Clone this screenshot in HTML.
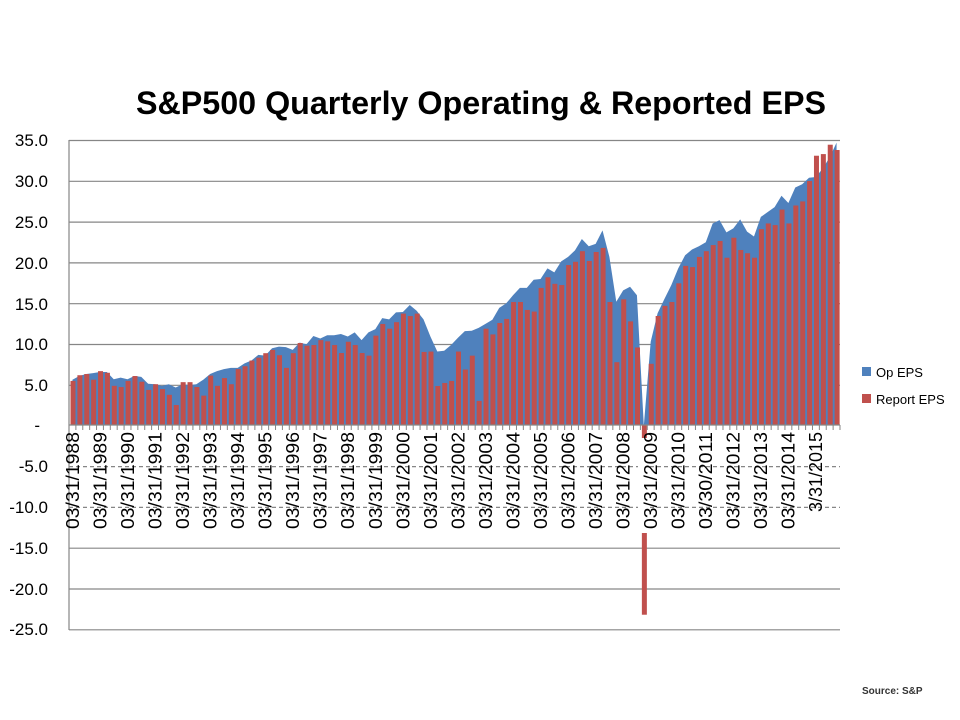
<!DOCTYPE html>
<html><head><meta charset="utf-8"><style>
html,body{margin:0;padding:0;background:#fff;}
svg{display:block;}
text{font-family:"Liberation Sans",sans-serif;}
</style></head><body>
<svg id="s" width="960" height="720" xmlns="http://www.w3.org/2000/svg">
<rect width="960" height="720" fill="#fff"/>
<text x="136" y="114" font-size="32" font-weight="bold" textLength="690" lengthAdjust="spacingAndGlyphs">S&amp;P500 Quarterly Operating &amp; Reported EPS</text>
<g id="grid" stroke="#868686" stroke-width="1.2">
<line x1="69" x2="840" y1="140.5" y2="140.5"/>
<line x1="69" x2="840" y1="181.3" y2="181.3"/>
<line x1="69" x2="840" y1="222.1" y2="222.1"/>
<line x1="69" x2="840" y1="262.9" y2="262.9"/>
<line x1="69" x2="840" y1="303.7" y2="303.7"/>
<line x1="69" x2="840" y1="344.5" y2="344.5"/>
<line x1="69" x2="840" y1="385.3" y2="385.3"/>
<line x1="69" x2="840" y1="466.6" y2="466.6" stroke-dasharray="4 3"/>
<line x1="69" x2="840" y1="507.4" y2="507.4" stroke-dasharray="4 3"/>
<line x1="69" x2="840" y1="548.2" y2="548.2"/>
<line x1="69" x2="840" y1="589" y2="589"/>
<line x1="69" x2="840" y1="629.8" y2="629.8"/>
</g>
<g id="plot"></g>
<g font-size="17" text-anchor="end" fill="#000">
<text x="48" y="146">35.0</text>
<text x="48" y="187">30.0</text>
<text x="48" y="228">25.0</text>
<text x="48" y="269">20.0</text>
<text x="48" y="310">15.0</text>
<text x="48" y="350">10.0</text>
<text x="48" y="391">5.0</text>
<text x="40" y="431">-</text>
<text x="48" y="472">-5.0</text>
<text x="48" y="513">-10.0</text>
<text x="48" y="554">-15.0</text>
<text x="48" y="595">-20.0</text>
<text x="48" y="635">-25.0</text>
</g>
<g id="xl" font-size="18" text-anchor="end" fill="#000">
<text transform="translate(79,432) rotate(-90)" textLength="97" lengthAdjust="spacingAndGlyphs">03/31/1988</text>
<text transform="translate(106.6,432) rotate(-90)" textLength="97" lengthAdjust="spacingAndGlyphs">03/31/1989</text>
<text transform="translate(134.1,432) rotate(-90)" textLength="97" lengthAdjust="spacingAndGlyphs">03/31/1990</text>
<text transform="translate(161.6,432) rotate(-90)" textLength="97" lengthAdjust="spacingAndGlyphs">03/31/1991</text>
<text transform="translate(189.1,432) rotate(-90)" textLength="97" lengthAdjust="spacingAndGlyphs">03/31/1992</text>
<text transform="translate(216.6,432) rotate(-90)" textLength="97" lengthAdjust="spacingAndGlyphs">03/31/1993</text>
<text transform="translate(244.2,432) rotate(-90)" textLength="97" lengthAdjust="spacingAndGlyphs">03/31/1994</text>
<text transform="translate(271.7,432) rotate(-90)" textLength="97" lengthAdjust="spacingAndGlyphs">03/31/1995</text>
<text transform="translate(299.2,432) rotate(-90)" textLength="97" lengthAdjust="spacingAndGlyphs">03/31/1996</text>
<text transform="translate(326.7,432) rotate(-90)" textLength="97" lengthAdjust="spacingAndGlyphs">03/31/1997</text>
<text transform="translate(354.2,432) rotate(-90)" textLength="97" lengthAdjust="spacingAndGlyphs">03/31/1998</text>
<text transform="translate(381.8,432) rotate(-90)" textLength="97" lengthAdjust="spacingAndGlyphs">03/31/1999</text>
<text transform="translate(409.3,432) rotate(-90)" textLength="97" lengthAdjust="spacingAndGlyphs">03/31/2000</text>
<text transform="translate(436.8,432) rotate(-90)" textLength="97" lengthAdjust="spacingAndGlyphs">03/31/2001</text>
<text transform="translate(464.3,432) rotate(-90)" textLength="97" lengthAdjust="spacingAndGlyphs">03/31/2002</text>
<text transform="translate(491.8,432) rotate(-90)" textLength="97" lengthAdjust="spacingAndGlyphs">03/31/2003</text>
<text transform="translate(519.4,432) rotate(-90)" textLength="97" lengthAdjust="spacingAndGlyphs">03/31/2004</text>
<text transform="translate(546.9,432) rotate(-90)" textLength="97" lengthAdjust="spacingAndGlyphs">03/31/2005</text>
<text transform="translate(574.4,432) rotate(-90)" textLength="97" lengthAdjust="spacingAndGlyphs">03/31/2006</text>
<text transform="translate(601.9,432) rotate(-90)" textLength="97" lengthAdjust="spacingAndGlyphs">03/31/2007</text>
<text transform="translate(629.4,432) rotate(-90)" textLength="97" lengthAdjust="spacingAndGlyphs">03/31/2008</text>
<text transform="translate(657,432) rotate(-90)" textLength="97" lengthAdjust="spacingAndGlyphs">03/31/2009</text>
<text transform="translate(684.5,432) rotate(-90)" textLength="97" lengthAdjust="spacingAndGlyphs">03/31/2010</text>
<text transform="translate(712,432) rotate(-90)" textLength="97" lengthAdjust="spacingAndGlyphs">03/30/2011</text>
<text transform="translate(739.5,432) rotate(-90)" textLength="97" lengthAdjust="spacingAndGlyphs">03/31/2012</text>
<text transform="translate(767,432) rotate(-90)" textLength="97" lengthAdjust="spacingAndGlyphs">03/31/2013</text>
<text transform="translate(794.6,432) rotate(-90)" textLength="97" lengthAdjust="spacingAndGlyphs">03/31/2014</text>
<text transform="translate(822.1,432) rotate(-90)" textLength="80" lengthAdjust="spacingAndGlyphs">3/31/2015</text>
</g>
<rect x="862" y="367" width="9" height="9" fill="#4F81BD"/>
<text x="876" y="377" font-size="13">Op EPS</text>
<rect x="862" y="394" width="9" height="9" fill="#C0504D"/>
<text x="876" y="404" font-size="13">Report EPS</text>
<text x="862" y="694" font-size="10" font-weight="bold" fill="#333">Source: S&amp;P</text>
</svg>
<script>
var op=[5.55,6.0,6.25,6.35,6.5,6.5,5.6,5.8,5.6,6.0,5.9,5.05,5.0,4.8,5.0,4.6,5.0,4.9,5.0,5.55,6.25,6.6,6.85,7.0,7.0,7.55,7.9,8.6,8.5,9.4,9.6,9.55,9.2,10.1,9.9,10.9,
10.6,11.0,11.0,11.15,10.85,11.35,10.4,11.35,11.75,13.1,12.95,13.8,13.85,14.7,14.0,12.95,10.85,9.0,9.1,9.8,10.7,11.5,11.55,11.9,12.4,12.9,14.35,14.9,15.9,16.8,16.8,17.8,17.9,19.2,18.7,20.05,20.6,21.4,22.8,21.9,22.2,23.85,20.6,15.1,
16.5,16.95,15.9,-0.1,10.2,13.7,15.45,17.15,19.2,20.8,21.5,21.9,22.4,24.7,25.1,23.6,24.1,25.2,23.7,23.1,25.5,26.1,26.7,28.1,27.2,29.1,29.5,30.3,30.4,31.45,32.8,34.6];
var rp=[5.4,6.1,6.25,5.55,6.6,6.4,4.8,4.65,5.4,6.0,5.3,4.3,5.0,4.4,3.7,2.45,5.25,5.25,4.65,3.6,6.05,4.8,5.75,5.0,6.85,7.2,7.9,8.25,8.8,9.2,8.55,7.0,8.8,10.05,9.72,9.8,
10.4,10.25,9.8,8.82,10.2,9.8,8.82,8.5,10.95,12.38,11.8,12.6,13.65,13.35,13.65,8.95,9.0,4.78,5.15,5.4,9.0,6.8,8.5,2.95,11.8,11.1,12.5,13.0,15.07,15.07,14.1,13.9,16.8,18.1,17.3,17.15,19.6,20.0,21.3,20.1,21.2,21.7,15.07,7.7,
15.4,12.7,9.5,-23.25,7.5,13.36,14.6,15.07,17.36,19.5,19.35,20.6,21.3,22.05,22.55,20.5,22.95,21.45,21.05,20.5,24.0,24.7,24.5,26.4,24.7,26.9,27.4,29.9,33.0,33.2,34.35,33.7];
var X0=69,W=6.884,Z=425,K=8.16,ns="http://www.w3.org/2000/svg",g=document.getElementById('plot');
function el(t,a){var e=document.createElementNS(ns,t);for(var k in a)e.setAttribute(k,a[k]);g.appendChild(e);return e;}
var d="M"+(X0+W*0.5)+","+Z;
for(var i=0;i<op.length;i++){d+=" L"+(X0+W*(i+0.5)).toFixed(2)+","+(Z-op[i]*K).toFixed(2);}
d+=" L"+(X0+W*(op.length-0.5)).toFixed(2)+","+Z+" Z";
el('path',{d:d,fill:'#4F81BD'});
for(var i=0;i<rp.length;i++){var x=X0+W*i+1.5,v=rp[i],y=v>=0?Z-v*K:Z,h=Math.abs(v*K);el('rect',{x:x.toFixed(2),y:y.toFixed(2),width:5,height:h.toFixed(2),fill:'#C0504D'});}
el('rect',{x:638,y:438,width:12,height:95,fill:'#fff'});
el('line',{x1:69,x2:69,y1:140,y2:630,stroke:'#868686','stroke-width':1.2});
el('line',{x1:69,x2:840,y1:425,y2:425,stroke:'#868686','stroke-width':1.2});
for(var i=0;i<=112;i++){var x=X0+W*i;el('line',{x1:x,x2:x,y1:425,y2:430,stroke:'#868686','stroke-width':1});}
</script>
</body></html>
